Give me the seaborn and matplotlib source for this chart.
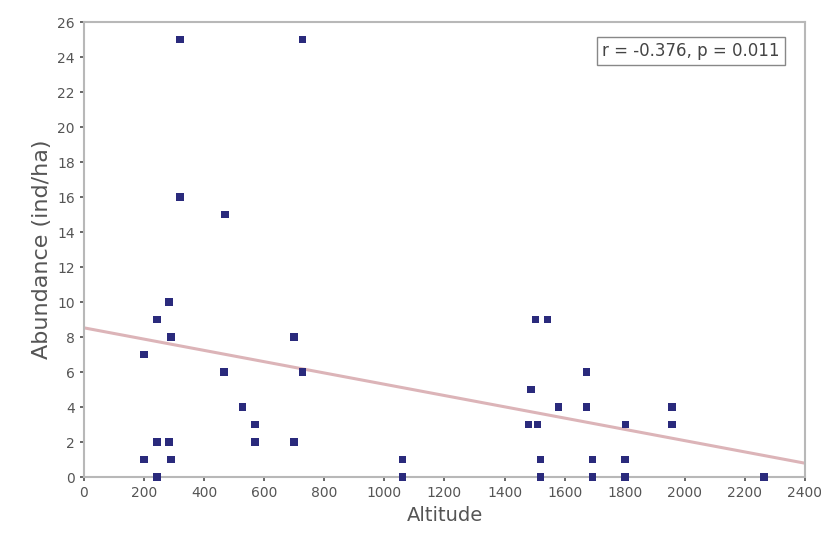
import matplotlib
matplotlib.use("Agg")
import matplotlib.pyplot as plt
import seaborn as sns
import pandas as pd

altitude = [320, 727, 320, 470, 283, 243, 290, 200, 467, 700, 727, 527, 570, 570, 700,
            243, 283, 200, 290, 243, 1060, 1060, 1503, 1543, 1673, 1487, 1580, 1673, 1957,
            1480, 1510, 1803, 1957, 1520, 1693, 1800, 1520, 1693, 1800, 2263]
abundance = [25, 25, 16, 15, 10, 9, 8, 7, 6, 8, 6, 4, 3, 2, 2,
             2, 2, 1, 1, 0, 1, 0, 9, 9, 6, 5, 4, 4, 4,
             3, 3, 3, 3, 1, 1, 1, 0, 0, 0, 0]
x_ticks = list(range(0, 2401, 200))
y_ticks = list(range(0, 27, 2))
stat_text = "r = -0.376, p = 0.011"

df = pd.DataFrame({"Altitude": altitude, "Abundance": abundance})

sns.set_theme(style="white")
plt.rcParams['font.family'] = ['DejaVu Sans']

fig = plt.figure(figsize=(8.21, 5.34), dpi=100)
ax = fig.add_axes([0.1023, 0.1067, 0.8782, 0.8521])
ax.set_xlim(0, 2400)
ax.set_ylim(0, 26)

sns.regplot(data=df, x="Altitude", y="Abundance", scatter=False, ci=None, ax=ax,
            line_kws=dict(color="#dcb4b8", lw=2.2), truncate=False)
sns.scatterplot(data=df, x="Altitude", y="Abundance", marker="s", s=30,
                color="#2a2a7c", edgecolor="none", ax=ax, clip_on=False, zorder=5)

ax.set_xlim(0, 2400)
ax.set_ylim(0, 26)
ax.set_xticks(x_ticks)
ax.set_yticks(y_ticks)
ax.tick_params(axis="both", labelsize=10, colors="#555555", length=3, direction="out",
               left=True, bottom=True)
for s in ax.spines.values():
    s.set_color("#b8b8b8")
    s.set_linewidth(1.5)

ax.set_xlabel("Altitude", fontsize=14, color="#555555")
ax.set_ylabel("Abundance (ind/ha)", fontsize=16, color="#555555")

ax.text(0.965, 0.955, stat_text, transform=ax.transAxes, ha="right", va="top",
        fontsize=12, color="#444444",
        bbox=dict(boxstyle="square,pad=0.3", fc="white", ec="#888888", lw=1))

fig.savefig("out.png", dpi=100)
